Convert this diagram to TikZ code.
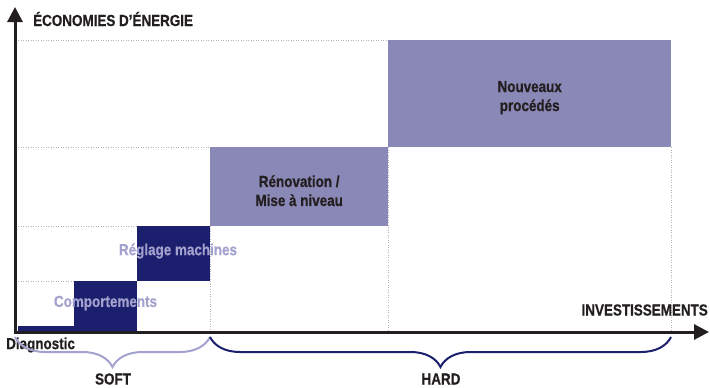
\documentclass[tikz,border=0pt]{standalone}
\usepackage{fontspec}
\setmainfont[FakeStretch=0.84, BoldFeatures={FakeBold=0.6}]{Liberation Sans}
\usepackage{tikz}
\usetikzlibrary{arrows.meta, decorations.pathreplacing}
\definecolor{navy}{RGB}{28, 30, 110}
\definecolor{lavender}{RGB}{138, 136, 182}
\definecolor{lightlav}{RGB}{163, 162, 206}
\definecolor{ink}{RGB}{35, 31, 32}
\definecolor{gray70}{gray}{0.7}

\begin{document}
\begin{tikzpicture}[x=1pt, y=-1pt,
    lbl/.style={font=\fontsize{16}{19}\selectfont\bfseries, text=ink, inner sep=0pt, align=center},
    block/.style={inner sep=0pt, anchor=north west},
    grid/.style={color=gray70, line width=0.8pt, dash pattern=on 1pt off 1.5pt},
    axis/.style={color=ink, line width=3pt, -{Triangle[width=15pt, length=15pt]}},
    bracket/.style={line width=2pt, decorate, decoration={brace, amplitude=30pt}}]
  \useasboundingbox (0, 0) rectangle (710, 388);
  % grid
  \draw[grid] (18, 40) -- (388, 40);
  \draw[grid] (18, 147) -- (210, 147);
  \draw[grid] (18, 226) -- (137, 226);
  \draw[grid] (18, 281) -- (75, 281);
  \draw[grid] (210, 226) -- (210, 331);
  \draw[grid] (388, 147) -- (388, 331);
  \draw[grid] (671, 147) -- (671, 331);
  % steps
  \node[block, fill=navy, minimum width=57pt, minimum height=5pt] (diag) at (18, 326) {};
  \node[block, fill=navy, minimum width=63pt, minimum height=50pt] (comp) at (74, 281) {};
  \node[block, fill=navy, minimum width=73pt, minimum height=55pt] (regl) at (137, 226) {};
  \node[block, fill=lavender, minimum width=178pt, minimum height=79pt] (renov) at (210, 147) {};
  \node[block, fill=lavender, minimum width=283pt, minimum height=107pt] (proc) at (388, 40) {};
  \node[lbl] (renovtxt) at ([yshift=-4pt]renov.center) {R\'enovation /\\Mise \`a niveau};
  \node[lbl] (proctxt) at ([yshift=-4pt]proc.center) {Nouveaux\\proc\'ed\'es};
  \node[lbl, text=lightlav] (comptxt) at (105.5, 303) {Comportements};
  \node[lbl, text=lightlav] (regltxt) at (178, 251) {R\'eglage machines};
  % axes
  \coordinate (origin) at (15, 332);
  \coordinate (ytop) at (15, 7);
  \coordinate (xend) at (709, 332);
  \draw[axis] (origin) -- (ytop);
  \draw[axis] ([xshift=-1.5pt]origin) -- (xend);
  \node[lbl, anchor=west] (eco) at (33, 19) {\'ECONOMIES D'\'ENERGIE};
  \node[lbl, anchor=east] (inv) at (708, 310) {INVESTISSEMENTS};
  \node[lbl, anchor=west] (diagtxt) at (6, 345) {Diagnostic};
  % braces
  \coordinate (softa) at (15, 337);
  \coordinate (softb) at (210, 337);
  \coordinate (harda) at (671, 337);
  \draw[bracket, color=lightlav] (softb) -- (softa);
  \draw[bracket, color=navy] (harda) -- (softb);
  \node[lbl] (soft) at (113, 379) {SOFT};
  \node[lbl] (hard) at (441, 379) {HARD};
\end{tikzpicture}
\end{document}
